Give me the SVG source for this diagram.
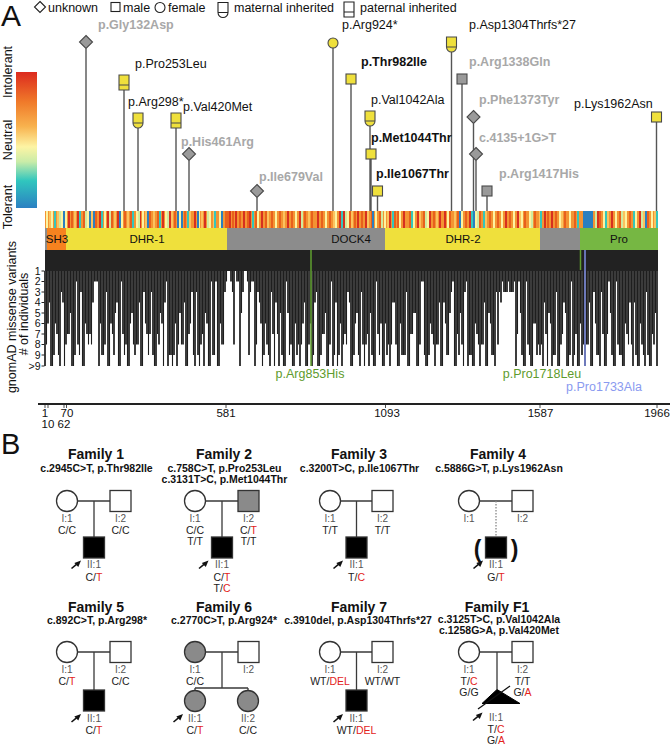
<svg xmlns="http://www.w3.org/2000/svg" width="672" height="745" viewBox="0 0 672 745">
<style>
text{font-family:"Liberation Sans",Arial,Helvetica,sans-serif;fill:#111}
.lab{font-size:12.5px}
.b{font-weight:bold}
.gry{fill:#a8a8a8;font-weight:bold}
.stem{stroke:#555;stroke-width:1.4;fill:none}
.sym{stroke:#4a4a4a;stroke-width:1.1}
.y{fill:#efe03c}
.g{fill:#9a9a9a}
.w{fill:#fff}
.dom{font-size:11.5px;text-anchor:middle}
.ax{font-size:11.5px;text-anchor:middle}
.tk{font-size:10.5px;text-anchor:end}
.st{stroke-width:2;fill:none}
.ped{stroke:#3a3a3a;stroke-width:1.3;fill:none}
.ind{stroke:#333;stroke-width:1.3}
.aff{fill:#000}
.gp{fill:#8a8a8a}
.fam{font-size:14px;font-weight:bold;text-anchor:middle}
.sub{font-size:10.5px;font-weight:bold;text-anchor:middle}
.id{font-size:10px;fill:#555;text-anchor:middle}
.gt{font-size:10.5px;fill:#222;text-anchor:middle}
.r{fill:#e3231b}
.leg{font-size:12.5px}
</style>
<defs>
<linearGradient id="tol" x1="0" y1="0" x2="0" y2="1">
<stop offset="0" stop-color="#dc2a1e"/>
<stop offset="0.22" stop-color="#f07a2a"/>
<stop offset="0.4" stop-color="#f8b24e"/>
<stop offset="0.55" stop-color="#fdf4a4"/>
<stop offset="0.66" stop-color="#c9eca8"/>
<stop offset="0.8" stop-color="#30c6be"/>
<stop offset="1" stop-color="#2b80c2"/>
</linearGradient>
<polygon id="dia" points="0,-6.5 6.5,0 0,6.5 -6.5,0"/>
<path id="mat" d="M-5,5V-5H5V5A5,5 0 0 1 -5,5ZM-5,5H5"/>
<path id="pat" d="M-5,-5H5V10H-5ZM-5,5H5"/>
<rect id="sq" x="-5" y="-5" width="10" height="10"/>
<g id="arw"><path d="M0,0L5,-4.2" stroke="#111" stroke-width="1.6"/><polygon points="9.5,-8 2.8,-5.6 6.8,-1.4" fill="#111"/></g>
</defs>

<!-- Panel A -->
<text x="1" y="26" font-size="30">A</text>
<g id="legend">
<polygon points="40,1.5 45.5,7 40,12.5 34.5,7" fill="#fff" stroke="#222" stroke-width="1.1"/>
<text class="leg" x="48" y="12">unknown</text>
<rect x="111" y="2.5" width="9" height="9" fill="#fff" stroke="#222" stroke-width="1.1"/>
<text class="leg" x="123" y="12">male</text>
<circle cx="160" cy="7.5" r="5" fill="#fff" stroke="#222" stroke-width="1.1"/>
<text class="leg" x="168" y="12">female</text>
<use href="#mat" transform="translate(223,7.5)" fill="#fff" stroke="#222" stroke-width="1.1"/>
<text class="leg" x="234" y="12">maternal inherited</text>
<use href="#pat" transform="translate(349,7)" fill="#fff" stroke="#222" stroke-width="1.1"/>
<text class="leg" x="360" y="12">paternal inherited</text>
</g>

<g id="tolerance-scale">
<rect x="16" y="72" width="21" height="136" fill="url(#tol)"/>
<text class="lab" transform="translate(12,72) rotate(-90)" text-anchor="middle">Intolerant</text>
<text class="lab" transform="translate(12,140) rotate(-90)" text-anchor="middle">Neutral</text>
<text class="lab" transform="translate(12,207) rotate(-90)" text-anchor="middle">Tolerant</text>
</g>

<g id="connectors">
<path class="stem" d="M86 48.5V211M124 90V211M138 128V211M176 128V211M189 160.5V211M257 197.5V211M333 48V211M351 84V211M370 126V211M371 159V211M377.5 196V211M451.5 52V211M462 84V211M473.5 123.5V211M476 160.5V211M487 196V211M656.5 122V211"/>
<path class="ped" d="M77.5 501H110M94 501V537M205.5 501H238M222 501V537M340.5 501H372M356.5 501V537M479.5 501H512"/>
<path d="M496 501V537" stroke="#888" stroke-width="1.3" stroke-dasharray="1.5,1.5" fill="none"/>
<path class="ped" d="M77.5 652H110M94 652V690M205.5 652H238M222 652V688M195 688H248M195 688V690.5M248 688V690.5M340.5 652H372M356.5 652V690M479.5 652H512M497 652V689.5"/>
</g>

<g id="v-gly132asp"><use href="#dia" transform="translate(86,42)" class="sym g"/><text class="lab gry" x="98" y="29">p.Gly132Asp</text></g>
<g id="v-pro253leu"><use href="#pat" transform="translate(124,80)" class="sym y"/><text class="lab" x="135" y="68">p.Pro253Leu</text></g>
<g id="v-arg298"><use href="#mat" transform="translate(138,118)" class="sym y"/><text class="lab" x="128" y="106">p.Arg298*</text></g>
<g id="v-val420met"><use href="#pat" transform="translate(176,118)" class="sym y"/><text class="lab" x="183" y="111">p.Val420Met</text></g>
<g id="v-his461arg"><use href="#dia" transform="translate(189,154)" class="sym g"/><text class="lab gry" x="181" y="146">p.His461Arg</text></g>
<g id="v-ile679val"><use href="#dia" transform="translate(257,191)" class="sym g"/><text class="lab gry" x="259" y="181">p.Ile679Val</text></g>
<g id="v-arg924"><circle cx="333" cy="43" r="5" class="sym y"/><text class="lab" x="342" y="29">p.Arg924*</text></g>
<g id="v-thr982ile"><use href="#sq" transform="translate(351,79)" class="sym y"/><text class="lab b" x="361" y="66">p.Thr982Ile</text></g>
<g id="v-val1042ala"><use href="#mat" transform="translate(370,116)" class="sym y"/><text class="lab" x="371" y="104">p.Val1042Ala</text></g>
<g id="v-met1044thr"><use href="#sq" transform="translate(371,154)" class="sym y"/><text class="lab b" x="371" y="142">p.Met1044Thr</text></g>
<g id="v-ile1067thr"><use href="#sq" transform="translate(377.5,191)" class="sym y"/><text class="lab b" x="376" y="178">p.Ile1067Thr</text></g>
<g id="v-asp1304"><use href="#mat" transform="translate(451.5,42)" class="sym y"/><text class="lab" x="469" y="29">p.Asp1304Thrfs*27</text></g>
<g id="v-arg1338gln"><use href="#sq" transform="translate(462,79)" class="sym g"/><text class="lab gry" x="469" y="66">p.Arg1338Gln</text></g>
<g id="v-phe1373tyr"><use href="#dia" transform="translate(473.5,117)" class="sym g"/><text class="lab gry" x="479" y="104">p.Phe1373Tyr</text></g>
<g id="v-c4135"><use href="#dia" transform="translate(476,154)" class="sym g"/><text class="lab gry" x="479" y="142">c.4135+1G&gt;T</text></g>
<g id="v-arg1417his"><use href="#sq" transform="translate(487,191)" class="sym g"/><text class="lab gry" x="499" y="178">p.Arg1417His</text></g>
<g id="v-lys1962asn"><use href="#sq" transform="translate(656.5,117)" class="sym y"/><text class="lab" x="574" y="108">p.Lys1962Asn</text></g>

<g id="conservation-strip">
<rect x="45" y="211" width="613" height="17" fill="#f39433"/>
<path class="st" stroke="#e8601c" d="M72 211v17M84 211v17M96 211v17M112 211v17M125 211v17M131 211v17M150 211v17M158 211v17M175 211v17M185 211v17M226 211v17M228 211v17M233 211v17M240 211v17M248 211v17M256 211v17M266 211v17M272 211v17M280 211v17M292 211v17M305 211v17M312 211v17M322 211v17M330 211v17M350 211v17M355 211v17M362 211v17M372 211v17M380 211v17M395 211v17M398 211v17M410 211v17M424 211v17M434 211v17M450 211v17M458 211v17M466 211v17M480 211v17M490 211v17M498 211v17M510 211v17M525 211v17M535 211v17M548 211v17M556 211v17M565 211v17M575 211v17M600 211v17M620 211v17M630 211v17M648 211v17"/>
<path class="st" stroke="#d7301f" d="M69 211v17M78 211v17M100 211v17M108 211v17M118 211v17M140 211v17M163 211v17M170 211v17M195 211v17M205 211v17M230 211v17M236 211v17M244 211v17M250 211v17M262 211v17M288 211v17M300 211v17M318 211v17M340 211v17M344 211v17M358 211v17M366 211v17M390 211v17M404 211v17M418 211v17M430 211v17M440 211v17M445 211v17M470 211v17M506 211v17M518 211v17M545 211v17M552 211v17M598 211v17M612 211v17M640 211v17"/>
<path class="st" stroke="#fdf3a0" d="M47 211v17M52 211v17M62 211v17M66 211v17M88 211v17M105 211v17M122 211v17M137 211v17M143 211v17M166 211v17M180 211v17M199 211v17M210 211v17M220 211v17M258 211v17M276 211v17M296 211v17M326 211v17M336 211v17M348 211v17M376 211v17M385 211v17M400 211v17M414 211v17M428 211v17M448 211v17M462 211v17M476 211v17M494 211v17M502 211v17M514 211v17M522 211v17M530 211v17M560 211v17M570 211v17M604 211v17M616 211v17M626 211v17M636 211v17M652 211v17"/>
<path class="st" stroke="#fbc25e" d="M50 211v17M58 211v17M75 211v17M92 211v17M115 211v17M128 211v17M146 211v17M154 211v17M172 211v17M190 211v17M202 211v17M214 211v17M268 211v17M284 211v17M309 211v17M334 211v17M352 211v17M368 211v17M388 211v17M420 211v17M437 211v17M455 211v17M486 211v17M520 211v17M540 211v17M562 211v17M608 211v17M624 211v17M644 211v17M655 211v17"/>
<path class="st" stroke="#cfeaa0" d="M60 211v17M86 211v17M110 211v17M139 211v17M168 211v17M208 211v17M302 211v17M346 211v17M382 211v17M426 211v17M478 211v17M532 211v17M596 211v17M622 211v17M642 211v17"/>
<path class="st" stroke="#35c6bb" d="M55 211v17M80 211v17M102 211v17M133 211v17M160 211v17M188 211v17M215 211v17M253 211v17M342 211v17M393 211v17M412 211v17M472 211v17M484 211v17M541 211v17M578 211v17M606 211v17M634 211v17M657 211v17"/>
<path class="st" stroke="#2b7fbf" d="M64 211v17M90 211v17M94 211v17M120 211v17M148 211v17M178 211v17M182 211v17M198 211v17M222 211v17M373 211v17M460 211v17M474 211v17M646 211v17"/>
<rect x="583" y="211" width="10" height="17" fill="#2b7fbf"/>
</g>

<g id="domains">
<rect x="45" y="228" width="613" height="22" fill="#8c8c8c"/>
<rect x="47" y="228" width="19" height="22" fill="#f6821f"/>
<rect x="66" y="228" width="161" height="22" fill="#efe03c"/>
<rect x="385" y="228" width="155" height="22" fill="#efe03c"/>
<rect x="580" y="228" width="78" height="22" fill="#76b743"/>
<text class="dom" x="57" y="243">SH3</text>
<text class="dom" x="147" y="243">DHR-1</text>
<text class="dom" x="351" y="243">DOCK4</text>
<text class="dom" x="463" y="243">DHR-2</text>
<text class="dom" x="619" y="243">Pro</text>
</g>

<g id="gnomad">
<rect x="45" y="250" width="613" height="21" fill="#222"/>
<path stroke="#0e0e0e" stroke-width="1.6" fill="none" d="M45 271V366M48 271V323.5M51 271V366M54 271V355M57 271V334M60 271V366M63 271V302.5M66 271V344.5M69 271V334M72 271V366M75 271V355M78 271V344.5M81 271V292M84 271V366M87 271V334M90 271V334M93 271V302.5M96 271V281.5M99 271V366M102 271V355M105 271V344.5M108 271V366M111 271V323.5M114 271V355M117 271V302.5M120 271V366M123 271V334M126 271V344.5M129 271V366M132 271V313M135 271V355M138 271V344.5M141 271V366M144 271V292M147 271V334M150 271V334M153 271V355M156 271V366M159 271V344.5M162 271V323.5M165 271V302.5M168 271V366M171 271V355M174 271V355M177 271V366M180 271V313M183 271V344.5M186 271V366M189 271V334M192 271V292M195 271V366M198 271V355M201 271V344.5M204 271V366M207 271V323.5M210 271V366M213 271V355M216 271V281.5M219 271V366M222 271V344.5M225 271V292M231 271V281.5M234 271V344.5M237 271V281.5M240 271V366M243 271V292M249 271V355M252 271V281.5M255 271V366M258 271V292M261 271V323.5M264 271V355M267 271V344.5M270 271V366M273 271V334M276 271V302.5M279 271V366M282 271V355M285 271V366M288 271V313M291 271V344.5M294 271V366M297 271V355M300 271V366M303 271V323.5M306 271V366M309 271V344.5M312 271V366M315 271V302.5M318 271V366M321 271V355M324 271V334M327 271V366M330 271V344.5M333 271V366M336 271V302.5M339 271V355M342 271V366M345 271V334M348 271V292M351 271V366M354 271V355M357 271V313M360 271V366M363 271V344.5M366 271V344.5M369 271V366M372 271V355M375 271V366M378 271V334M381 271V323.5M384 271V366M387 271V355M390 271V366M393 271V302.5M396 271V344.5M399 271V366M402 271V355M405 271V355M408 271V366M411 271V334M414 271V313M417 271V366M420 271V344.5M423 271V281.5M426 271V366M429 271V355M432 271V334M435 271V366M438 271V344.5M441 271V366M444 271V302.5M447 271V355M450 271V313M453 271V281.5M456 271V366M459 271V355M462 271V344.5M465 271V292M468 271V366M471 271V355M474 271V366M477 271V334M480 271V366M483 271V344.5M486 271V366M489 271V313M492 271V355M495 271V366M498 271V344.5M501 271V302.5M504 271V292M507 271V292M510 271V292M513 271V292M516 271V366M519 271V281.5M522 271V355M525 271V366M528 271V344.5M531 271V366M534 271V323.5M537 271V355M540 271V355M543 271V366M546 271V334M549 271V313M552 271V366M555 271V355M558 271V366M561 271V344.5M564 271V302.5M567 271V366M570 271V355M573 271V366M576 271V334M579 271V366M582 271V355M585 271V366M588 271V344.5M591 271V366M594 271V292M597 271V355M600 271V366M603 271V334M606 271V366M609 271V281.5M612 271V355M615 271V366M618 271V344.5M621 271V355M624 271V366M627 271V334M630 271V302.5M633 271V366M636 271V355M639 271V366M642 271V344.5M645 271V366M648 271V355M651 271V366M654 271V344.5M657 271V366"/>
<path stroke="#1e1e1e" stroke-width="1.1" fill="none" d="M46.5 271V344.5M49.5 271V302.5M52.5 271V366M55.5 271V323.5M58.5 271V355M61.5 271V292M64.5 271V366M67.5 271V334M70.5 271V313M73.5 271V366M76.5 271V281.5M79.5 271V355M82.5 271V366M85.5 271V323.5M88.5 271V344.5M91.5 271V344.5M94.5 271V281.5M97.5 271V281.5M100.5 271V323.5M103.5 271V355M106.5 271V292M109.5 271V366M112.5 271V334M115.5 271V313M118.5 271V366M121.5 271V281.5M124.5 271V355M127.5 271V366M130.5 271V323.5M133.5 271V344.5M136.5 271V344.5M139.5 271V302.5M142.5 271V366M145.5 271V323.5M148.5 271V355M151.5 271V292M154.5 271V366M157.5 271V334M160.5 271V313M163.5 271V366M166.5 271V281.5M169.5 271V355M172.5 271V366M175.5 271V323.5M178.5 271V344.5M181.5 271V344.5M184.5 271V302.5M187.5 271V366M190.5 271V323.5M193.5 271V355M196.5 271V292M199.5 271V366M202.5 271V334M205.5 271V313M208.5 271V366M211.5 271V281.5M214.5 271V355M217.5 271V366M220.5 271V323.5M223.5 271V344.5M226.5 271V281.5M232.5 271V292M238.5 271V281.5M241.5 271V313M247.5 271V281.5M250.5 271V292M253.5 271V281.5M256.5 271V344.5M259.5 271V302.5M262.5 271V366M265.5 271V323.5M268.5 271V355M271.5 271V292M274.5 271V366M277.5 271V334M280.5 271V313M283.5 271V366M286.5 271V281.5M289.5 271V355M292.5 271V366M295.5 271V323.5M298.5 271V344.5M301.5 271V344.5M304.5 271V302.5M307.5 271V366M310.5 271V323.5M313.5 271V355M316.5 271V292M319.5 271V366M322.5 271V334M325.5 271V313M328.5 271V366M331.5 271V281.5M334.5 271V355M337.5 271V366M340.5 271V323.5M343.5 271V344.5M346.5 271V344.5M349.5 271V302.5M352.5 271V366M355.5 271V323.5M358.5 271V355M361.5 271V292M364.5 271V366M367.5 271V334M370.5 271V313M373.5 271V366M376.5 271V281.5M379.5 271V355M382.5 271V366M385.5 271V323.5M388.5 271V344.5M391.5 271V344.5M394.5 271V302.5M397.5 271V366M400.5 271V323.5M403.5 271V355M406.5 271V292M409.5 271V366M412.5 271V334M415.5 271V313M418.5 271V366M421.5 271V281.5M424.5 271V355M427.5 271V366M430.5 271V323.5M433.5 271V344.5M436.5 271V344.5M439.5 271V302.5M442.5 271V366M445.5 271V323.5M448.5 271V355M451.5 271V292M454.5 271V366M457.5 271V334M460.5 271V313M463.5 271V366M466.5 271V281.5M469.5 271V355M472.5 271V366M475.5 271V323.5M478.5 271V344.5M481.5 271V344.5M484.5 271V302.5M487.5 271V366M490.5 271V323.5M493.5 271V355M496.5 271V292M499.5 271V292M502.5 271V281.5M505.5 271V292M508.5 271V281.5M511.5 271V292M514.5 271V281.5M517.5 271V334M520.5 271V313M523.5 271V366M526.5 271V281.5M529.5 271V355M532.5 271V366M535.5 271V323.5M538.5 271V344.5M541.5 271V344.5M544.5 271V302.5M547.5 271V366M550.5 271V323.5M553.5 271V355M556.5 271V292M559.5 271V366M562.5 271V334M565.5 271V313M568.5 271V366M571.5 271V281.5M574.5 271V355M577.5 271V366M580.5 271V323.5M583.5 271V344.5M586.5 271V344.5M589.5 271V302.5M592.5 271V366M595.5 271V323.5M598.5 271V355M601.5 271V292M604.5 271V366M607.5 271V334M610.5 271V313M613.5 271V366M616.5 271V281.5M619.5 271V355M622.5 271V366M625.5 271V323.5M628.5 271V344.5M631.5 271V344.5M634.5 271V302.5M637.5 271V366M640.5 271V323.5M643.5 271V355M646.5 271V292M649.5 271V366M652.5 271V334M655.5 271V313"/>
<path d="M311 250V366M580.5 250V270" stroke="#5f9e2f" stroke-width="1.5"/>
<path d="M585 250V366" stroke="#7f8fe6" stroke-width="1.5"/>
<text class="lab" x="310" y="378" text-anchor="middle" style="fill:#5e9b2d">p.Arg853His</text>
<text class="lab" x="542" y="378" text-anchor="middle" style="fill:#5e9b2d">p.Pro1718Leu</text>
<text class="lab" x="604" y="391" text-anchor="middle" style="fill:#8a9af0">p.Pro1733Ala</text>
<path d="M41.5 271H44.5M41.5 281.5H44.5M41.5 292H44.5M41.5 302.5H44.5M41.5 313H44.5M41.5 323.5H44.5M41.5 334H44.5M41.5 344.5H44.5M41.5 355H44.5M41.5 366H44.5" stroke="#222" stroke-width="1"/>
<text class="tk" x="40.5" y="274.5">1</text>
<text class="tk" x="40.5" y="285">2</text>
<text class="tk" x="40.5" y="295.5">3</text>
<text class="tk" x="40.5" y="306">4</text>
<text class="tk" x="40.5" y="316.5">5</text>
<text class="tk" x="40.5" y="327">6</text>
<text class="tk" x="40.5" y="337.5">7</text>
<text class="tk" x="40.5" y="348">8</text>
<text class="tk" x="40.5" y="358.5">9</text>
<text class="tk" x="40.5" y="369.5">&gt;9</text>
<text class="lab" transform="translate(16,317) rotate(-90)" text-anchor="middle">gnomAD missense variants</text>
<text class="lab" transform="translate(28,314) rotate(-90)" text-anchor="middle"># of individuals</text>
</g>

<g id="protein-axis">
<path d="M38 404H670" stroke="#222" stroke-width="2"/>
<path d="M45 405V408M48 405V408M64 405V408M66.5 405V408M226 405V408M385.5 405V408M540 405V408M657 405V408" stroke="#222" stroke-width="0.8"/>
<text class="ax" x="45" y="417">1</text>
<text class="ax" x="67" y="417">70</text>
<text class="ax" x="226" y="417">581</text>
<text class="ax" x="387" y="417">1093</text>
<text class="ax" x="540.5" y="417">1587</text>
<text class="ax" x="657" y="417">1966</text>
<text class="ax" x="48" y="428">10</text>
<text class="ax" x="64" y="428">62</text>
</g>

<!-- Panel B -->
<text x="1" y="454" font-size="29">B</text>

<g id="family1">
<text class="fam" x="96" y="459">Family 1</text>
<text class="sub" x="96.5" y="472">c.2945C&gt;T, p.Thr982Ile</text>
<g id="f1-I1"><circle cx="67" cy="501" r="10.5" class="ind w"/><text class="id" x="67" y="522">I:1</text><text class="gt" x="67" y="533.5">C/C</text></g>
<g id="f1-I2"><rect x="110" y="490.5" width="21" height="21" class="ind w"/><text class="id" x="120.5" y="522">I:2</text><text class="gt" x="120.5" y="533.5">C/C</text></g>
<g id="f1-II1"><rect x="83.5" y="537" width="21" height="21" class="ind aff"/><use href="#arw" transform="translate(71.5,568.5)"/><text class="id" x="94" y="568">II:1</text><text class="gt" x="94" y="580.5">C/<tspan class="r">T</tspan></text></g>
</g>

<g id="family2">
<text class="fam" x="224" y="459">Family 2</text>
<text class="sub" x="224.5" y="471.5">c.758C&gt;T, p.Pro253Leu</text>
<text class="sub" x="224.5" y="482.5">c.3131T&gt;C, p.Met1044Thr</text>
<g id="f2-I1"><circle cx="195" cy="501" r="10.5" class="ind w"/><text class="id" x="195" y="522">I:1</text><text class="gt" x="195" y="533.5">C/C</text><text class="gt" x="195" y="545">T/T</text></g>
<g id="f2-I2"><rect x="238" y="490.5" width="21" height="21" class="ind gp"/><text class="id" x="248.5" y="522">I:2</text><text class="gt" x="248.5" y="533.5">C/<tspan class="r">T</tspan></text><text class="gt" x="248.5" y="545">T/T</text></g>
<g id="f2-II1"><rect x="211.5" y="537" width="21" height="21" class="ind aff"/><use href="#arw" transform="translate(199,568.5)"/><text class="id" x="222" y="568">II:1</text><text class="gt" x="222" y="580.5">C/<tspan class="r">T</tspan></text><text class="gt" x="222" y="592">T/<tspan class="r">C</tspan></text></g>
</g>

<g id="family3">
<text class="fam" x="359" y="459">Family 3</text>
<text class="sub" x="359.5" y="472">c.3200T&gt;C, p.Ile1067Thr</text>
<g id="f3-I1"><circle cx="330" cy="501" r="10.5" class="ind w"/><text class="id" x="330" y="522">I:1</text><text class="gt" x="330" y="533.5">T/T</text></g>
<g id="f3-I2"><rect x="372" y="490.5" width="21" height="21" class="ind w"/><text class="id" x="382.5" y="522">I:2</text><text class="gt" x="382.5" y="533.5">T/T</text></g>
<g id="f3-II1"><rect x="346" y="537" width="21" height="21" class="ind aff"/><use href="#arw" transform="translate(333.5,568.5)"/><text class="id" x="356.5" y="568">II:1</text><text class="gt" x="356.5" y="580.5">T/<tspan class="r">C</tspan></text></g>
</g>

<g id="family4">
<text class="fam" x="498" y="459">Family 4</text>
<text class="sub" x="499" y="472">c.5886G&gt;T, p.Lys1962Asn</text>
<g id="f4-I1"><circle cx="469" cy="501" r="10.5" class="ind w"/><text class="id" x="469" y="522">I:1</text></g>
<g id="f4-I2"><rect x="512" y="490.5" width="21" height="21" class="ind w"/><text class="id" x="522.5" y="522">I:2</text></g>
<g id="f4-II1"><rect x="485.5" y="537" width="21" height="21" class="ind aff"/>
<text x="477.5" y="557" font-size="23" font-weight="bold" text-anchor="middle">(</text>
<text x="514.5" y="557" font-size="23" font-weight="bold" text-anchor="middle">)</text>
<use href="#arw" transform="translate(473.5,568.5)"/><text class="id" x="496" y="568">II:1</text><text class="gt" x="496" y="580.5">G/<tspan class="r">T</tspan></text></g>
</g>

<g id="family5">
<text class="fam" x="96" y="612">Family 5</text>
<text class="sub" x="97" y="624">c.892C&gt;T, p.Arg298*</text>
<g id="f5-I1"><circle cx="67" cy="652" r="10.5" class="ind w"/><text class="id" x="67" y="673">I:1</text><text class="gt" x="67" y="684.5">C/<tspan class="r">T</tspan></text></g>
<g id="f5-I2"><rect x="110" y="641.5" width="21" height="21" class="ind w"/><text class="id" x="120.5" y="673">I:2</text><text class="gt" x="120.5" y="684.5">C/C</text></g>
<g id="f5-II1"><rect x="83.5" y="690" width="21" height="21" class="ind aff"/><use href="#arw" transform="translate(71.5,722)"/><text class="id" x="94" y="722">II:1</text><text class="gt" x="94" y="734">C/<tspan class="r">T</tspan></text></g>
</g>

<g id="family6">
<text class="fam" x="224" y="612">Family 6</text>
<text class="sub" x="224" y="624">c.2770C&gt;T, p.Arg924*</text>
<g id="f6-I1"><circle cx="195" cy="652" r="10.5" class="ind gp"/><text class="id" x="195" y="673">I:1</text><text class="gt" x="195" y="684.5">C/C</text></g>
<g id="f6-I2"><rect x="238" y="641.5" width="21" height="21" class="ind w"/><text class="id" x="248.5" y="673">I:2</text></g>
<g id="f6-II1"><circle cx="195" cy="701" r="10.5" class="ind gp"/><use href="#arw" transform="translate(173.5,722)"/><text class="id" x="195" y="722">II:1</text><text class="gt" x="195" y="734">C/<tspan class="r">T</tspan></text></g>
<g id="f6-II2"><circle cx="248" cy="701" r="10.5" class="ind gp"/><text class="id" x="248" y="722">II:2</text><text class="gt" x="248" y="734">C/C</text></g>
</g>

<g id="family7">
<text class="fam" x="359" y="612">Family 7</text>
<text class="sub" x="358" y="624">c.3910del, p.Asp1304Thrfs*27</text>
<g id="f7-I1"><circle cx="330" cy="652" r="10.5" class="ind w"/><text class="id" x="330" y="673">I:1</text><text class="gt" x="330" y="684.5">WT/<tspan class="r">DEL</tspan></text></g>
<g id="f7-I2"><rect x="372" y="641.5" width="21" height="21" class="ind w"/><text class="id" x="382.5" y="673">I:2</text><text class="gt" x="382.5" y="684.5">WT/WT</text></g>
<g id="f7-II1"><rect x="346" y="690" width="21" height="21" class="ind aff"/><use href="#arw" transform="translate(333.5,722)"/><text class="id" x="356.5" y="722">II:1</text><text class="gt" x="356.5" y="734">WT/<tspan class="r">DEL</tspan></text></g>
</g>

<g id="familyF1">
<text class="fam" x="497" y="611.5">Family F1</text>
<text class="sub" x="499" y="623">c.3125T&gt;C, p.Val1042Ala</text>
<text class="sub" x="499" y="634">c.1258G&gt;A, p.Val420Met</text>
<g id="fF1-I1"><circle cx="469" cy="652" r="10.5" class="ind w"/><text class="id" x="469" y="673">I:1</text><text class="gt" x="469" y="684.5">T/<tspan class="r">C</tspan></text><text class="gt" x="469" y="696">G/G</text></g>
<g id="fF1-I2"><rect x="512" y="641.5" width="21" height="21" class="ind w"/><text class="id" x="522.5" y="673">I:2</text><text class="gt" x="522.5" y="684.5">T/T</text><text class="gt" x="522.5" y="696">G/<tspan class="r">A</tspan></text></g>
<g id="fF1-II1"><polygon points="497,689.5 520,703.5 482,703.5" fill="#000" stroke="#000" stroke-width="1"/><path d="M478 709L510 686" stroke="#111" stroke-width="1.3"/><use href="#arw" transform="translate(473,720.5)"/><text class="id" x="496" y="721">II:1</text><text class="gt" x="496" y="732.5">T/<tspan class="r">C</tspan></text><text class="gt" x="496" y="744">G/<tspan class="r">A</tspan></text></g>
</g>
</svg>
